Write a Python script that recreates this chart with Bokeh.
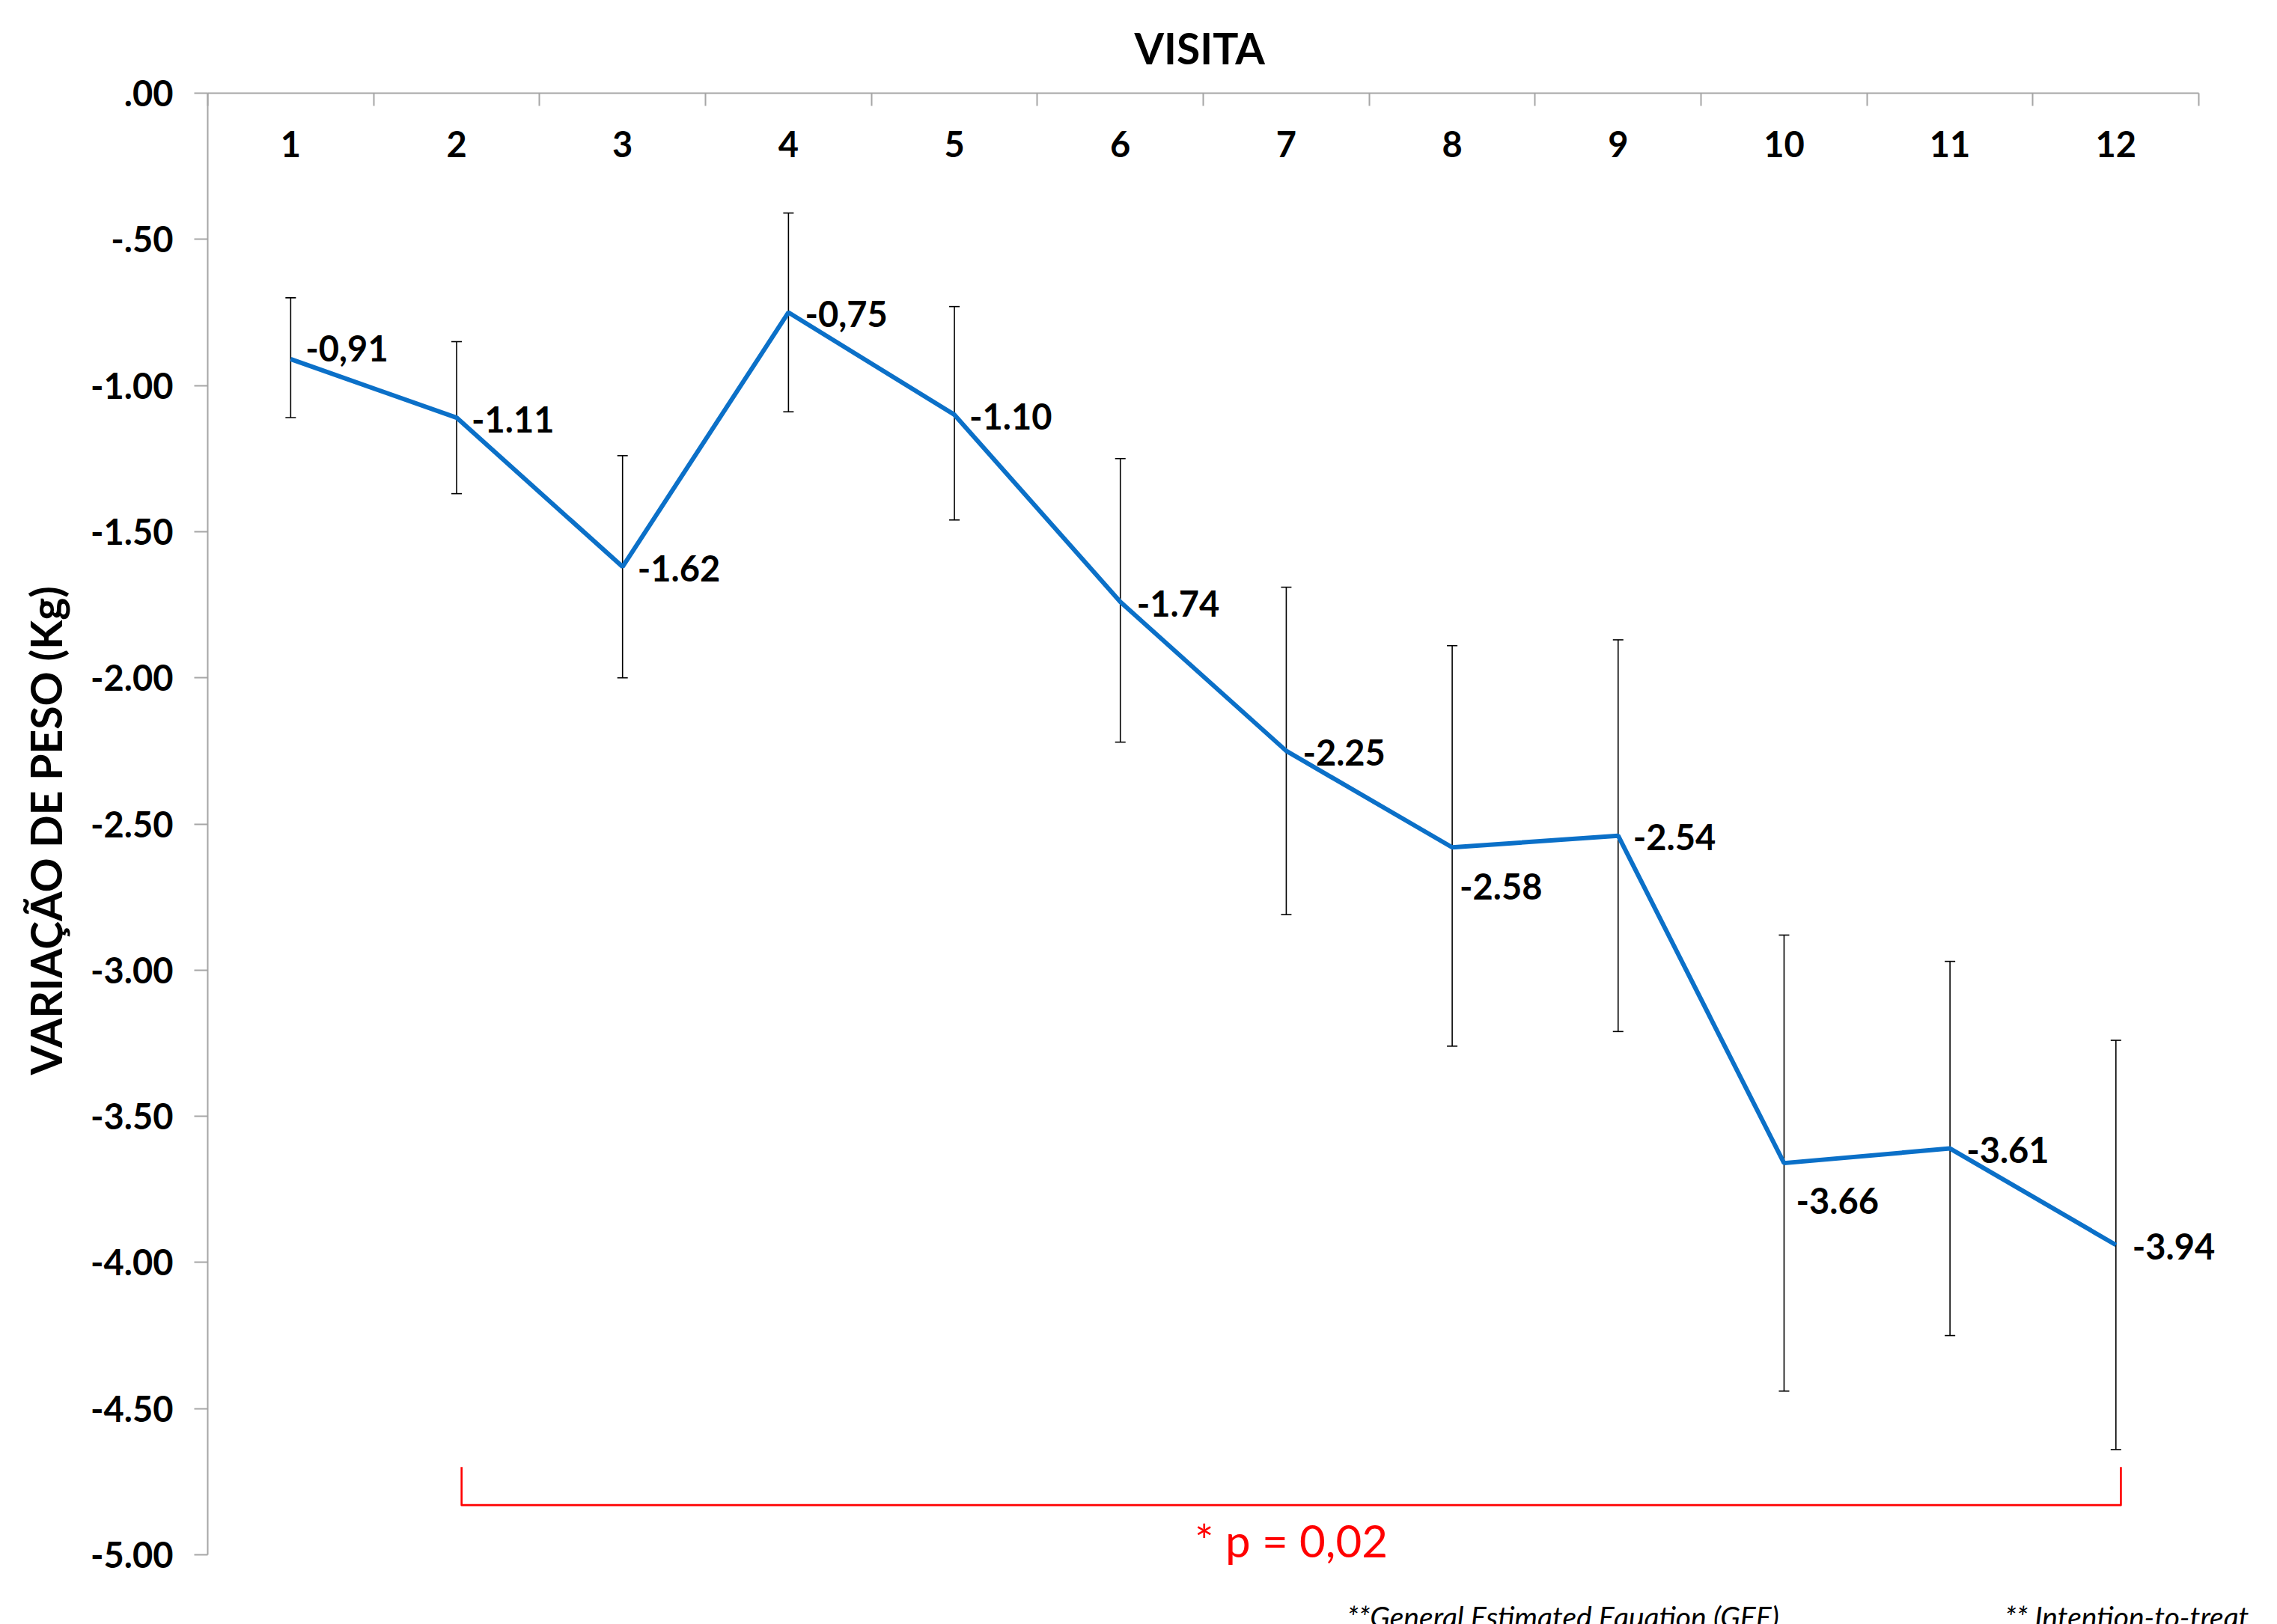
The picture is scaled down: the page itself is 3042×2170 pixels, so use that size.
from bokeh.plotting import figure
from bokeh.models import (ColumnDataSource, Range1d, FixedTicker, LabelSet, Whisker, TeeHead, Label, Title)
from bokeh.embed import file_html
from bokeh.resources import INLINE
from bokeh.core.properties import value

# ---------------- data ----------------
visits = [1, 2, 3, 4, 5, 6, 7, 8, 9, 10, 11, 12]
visit_labels = ["1", "2", "3", "4", "5", "6", "7", "8", "9", "10", "11", "12"]
weight_change = [-0.91, -1.11, -1.62, -0.75, -1.10, -1.74, -2.25, -2.58, -2.54, -3.66, -3.61, -3.94]
value_labels = ["-0,91", "-1.11", "-1.62", "-0,75", "-1.10", "-1.74", "-2.25", "-2.58", "-2.54", "-3.66", "-3.61", "-3.94"]
err_upper = [-0.70, -0.85, -1.24, -0.41, -0.73, -1.25, -1.69, -1.89, -1.87, -2.88, -2.97, -3.24]
err_lower = [-1.11, -1.37, -2.00, -1.09, -1.46, -2.22, -2.81, -3.26, -3.21, -4.44, -4.25, -4.64]
y_ticks = [0.0, -0.5, -1.0, -1.5, -2.0, -2.5, -3.0, -3.5, -4.0, -4.5, -5.0]
y_tick_labels = [".00", "-.50", "-1.00", "-1.50", "-2.00", "-2.50", "-3.00", "-3.50", "-4.00", "-4.50", "-5.00"]
bracket_from = 2.03
bracket_to = 12.03
bracket_top = -4.70
bracket_bottom = -4.83
p_value_text = "* p = 0,02"
footnote_1 = "**General Estimated Equation (GEE)"
footnote_2 = "** Intention-to-treat"
x_title = "VISITA"
y_title = "VARIAÇÃO DE PESO (Kg)"

# label placement (screen px offsets)
label_dx = [20, 20, 20, 22, 20, 22, 22, 10, 20, 16, 22, 22]
label_dy = [14, -2, -2, -2, -2, -2, -2, -52, -2, -50, -2, -2]

FONT = "Lato"
AXIS_GRAY = "#a6a6a6"

# frame extends past the axis bounds so that annotations near edges are not clipped
p = figure(width=3042, height=2170,
           x_range=Range1d(0.5, 12.973), y_range=Range1d(-5.238, 0.0),
           x_axis_location="above",
           output_backend="svg", toolbar_location=None,
           min_border_left=277, min_border_right=0,
           min_border_top=124, min_border_bottom=0)
p.outline_line_color = None
p.grid.visible = False
p.background_fill_color = "white"
p.border_fill_color = "white"

# x axis (top) - ticks between visits, drawn as minor ticks (no labels)
boundaries = [v - 0.5 for v in visits] + [visits[-1] + 0.5]
xa = p.xaxis[0]
xa.bounds = (boundaries[0], boundaries[-1])
xa.ticker = FixedTicker(ticks=[], minor_ticks=boundaries)
xa.major_tick_line_color = None
xa.minor_tick_in = 17
xa.minor_tick_out = 0
xa.minor_tick_line_color = AXIS_GRAY
xa.minor_tick_line_width = 2
xa.axis_line_color = AXIS_GRAY
xa.axis_line_width = 2

# y axis (left)
ya = p.yaxis[0]
ya.bounds = (y_ticks[-1], y_ticks[0])
ya.ticker = FixedTicker(ticks=y_ticks)
ya.major_label_overrides = {t: l for t, l in zip(y_ticks, y_tick_labels)}
ya.major_tick_out = 18
ya.major_tick_in = 0
ya.minor_tick_line_color = None
ya.axis_line_color = AXIS_GRAY
ya.axis_line_width = 2
ya.major_tick_line_color = AXIS_GRAY
ya.major_tick_line_width = 2
ya.major_label_standoff = 28
ya.major_label_text_font = FONT
ya.major_label_text_font_style = "bold"
ya.major_label_text_font_size = "47px"
ya.major_label_text_color = "black"

# axis titles (as Titles so they can be positioned independent of frame extent)
p.add_layout(Title(text=x_title, align="left", offset=1238, standoff=54,
                   text_font=FONT, text_font_style="bold", text_font_size="57px",
                   text_color="black"), "above")
p.add_layout(Title(text=y_title, align="left", offset=734, standoff=48,
                   text_font=FONT, text_font_style="bold", text_font_size="57px",
                   text_color="black"), "left")

src = ColumnDataSource(dict(x=visits, y=weight_change, lab=value_labels,
                            up=err_upper, lo=err_lower,
                            dx=label_dx, dy=label_dy,
                            cat=visit_labels, zero=[0.0] * len(visits)))

# error bars
wh = Whisker(source=src, base="x", upper="up", lower="lo", dimension="height",
             line_color="black", line_width=1.6,
             upper_head=TeeHead(size=14, line_color="black", line_width=1.6),
             lower_head=TeeHead(size=14, line_color="black", line_width=1.6),
             level="underlay")
p.add_layout(wh)

# main line
p.line("x", "y", source=src, line_width=6, line_color="#0b70c8")

# data labels
p.add_layout(LabelSet(x="x", y="y", text="lab", source=src,
                      x_offset="dx", y_offset="dy",
                      text_font=value(FONT), text_font_style="bold", text_font_size="47px",
                      text_color="black", text_align="left", text_baseline="middle"))

# category labels under top axis line
p.add_layout(LabelSet(x="x", y="zero", text="cat", source=src,
                      y_offset=-68,
                      text_font=value(FONT), text_font_style="bold", text_font_size="47px",
                      text_color="black", text_align="center", text_baseline="middle"))

# significance bracket
p.line(x=[bracket_from, bracket_from, bracket_to, bracket_to],
       y=[bracket_top, bracket_bottom, bracket_bottom, bracket_top],
       line_color="#ff0000", line_width=2.6, line_join="round")
p.add_layout(Label(x=(bracket_from + bracket_to) / 2, y=-4.95, text=p_value_text,
                   text_font=FONT, text_font_size="60px", text_color="#ff0000",
                   text_align="center", text_baseline="middle"))

# footnotes
p.add_layout(Label(x=7.366, y=-5.21, text=footnote_1,
                   text_font=FONT, text_font_style="italic", text_font_size="39px",
                   text_color="black", text_align="left", text_baseline="alphabetic"))
p.add_layout(Label(x=11.33, y=-5.21, text=footnote_2,
                   text_font=FONT, text_font_style="italic", text_font_size="39px",
                   text_color="black", text_align="left", text_baseline="alphabetic"))

open("out.html", "w").write(file_html(p, INLINE))
